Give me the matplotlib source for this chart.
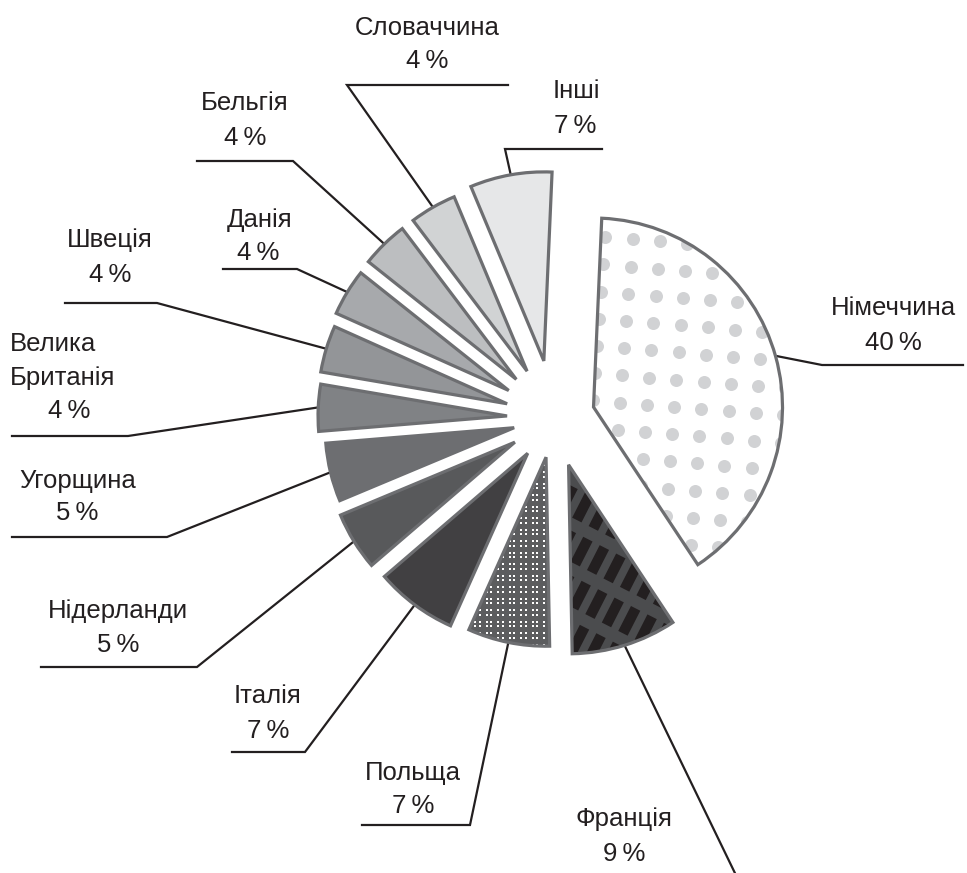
import numpy as np
import matplotlib
matplotlib.use('Agg')
import matplotlib.pyplot as plt
import matplotlib.patches as mpatches
from matplotlib.collections import LineCollection

plt.rcParams['font.family'] = ['Liberation Sans', 'DejaVu Sans']

# data
countries = ['Німеччина', 'Франція', 'Польща', 'Італія', 'Нідерланди', 'Угорщина',
             'Велика\nБританія', 'Швеція', 'Данія', 'Бельгія', 'Словаччина', 'Інші']
shares = [40, 9, 7, 7, 5, 5, 4, 4, 4, 4, 4, 7]
pct_labels = [f'{v}\u2009%' for v in shares]

# style / layout (pixel coords, y down)
fills = ['white', '#4b4c4e', '#5c5d5f', '#414042', '#58595b', '#6d6e71',
         '#808285', '#939598', '#a7a9ac', '#bcbec0', '#d1d3d4', '#e6e7e8']
explode = [41, 49, 40, 44, 46, 41, 47, 49, 53, 54, 54, 58]
center = (554, 418)
radius = 189
edge = '#6d6e71'
ink = '#231f20'
fs = 18.5

elbows = [(822, 365), (748, 900), (470, 825), (305, 752), (197, 667), (167, 537),
          (128, 436), (157, 303), (297, 269), (293, 161), (347, 85), (505, 149)]
line_end_x = [963, 860, 362, 232, 41, 12, 12, 65, 223, 197, 508, 602]
name_xy = [(893, 315), (624, 826), (413, 780), (268, 703), (118, 618), (78, 488),
           (10, 385), (110, 247), (260, 227), (245, 110), (427, 35), (576, 98)]
pct_xy = [(893, 350), (624, 861), (413, 813), (268, 738), (118, 652), (77, 520),
          (69, 418), (110, 282), (258, 260), (245, 145), (427, 68), (575, 133)]

fig = plt.figure(figsize=(9.67, 8.73), dpi=100)
ax = fig.add_axes([0, 0, 1, 1])

# y axis is flipped, so counterclock in data = clockwise on screen
wedges, _ = ax.pie(shares, explode=explode, center=center, radius=radius,
                   startangle=-87.5, counterclock=True, colors=fills,
                   wedgeprops=dict(edgecolor='none', linewidth=0))

ax.set_xlim(0, 967)
ax.set_ylim(873, 0)
ax.set_aspect('equal')
ax.axis('off')

# Germany: big light dots
phi = np.deg2rad(4.5)
step = 27.3
ii, jj = np.meshgrid(np.arange(-14, 15), np.arange(-14, 15))
u, v = ii * step, jj * step
dx = 632.7 + u * np.cos(phi) - v * np.sin(phi)
dy = 239.3 + u * np.sin(phi) + v * np.cos(phi)
sc = ax.scatter(dx.ravel(), dy.ravel(), s=(13 * 0.72) ** 2, c='#d1d2d4',
                linewidths=0, zorder=2)
sc.set_clip_path(wedges[0])

# France: black bars in slanted rows
a = np.deg2rad(27)
row = np.array([np.cos(a), np.sin(a)])
perp = np.array([np.sin(a), -np.cos(a)])
segs = []
for i in range(-14, 15):
    for j in range(-8, 9):
        c = np.array([598, 560]) + i * 18.5 * row + j * 40 * perp
        segs.append([c - 14 * perp, c + 14 * perp])
bars = LineCollection(segs, colors=ink, linewidths=10.5 * 0.72, capstyle='butt', zorder=2)
ax.add_collection(bars)
bars.set_clip_path(wedges[1])

# Poland: small white dots in 2x2 groups
gx, gy = np.meshgrid(np.arange(420, 640, 11.5), np.arange(440, 680, 11.5))
px, py = [], []
for ox in (-2.1, 2.1):
    for oy in (-2.1, 2.1):
        px.append(gx.ravel() + ox)
        py.append(gy.ravel() + oy)
dots = ax.scatter(np.concatenate(px), np.concatenate(py), s=(2.6 * 0.72) ** 2,
                  marker='s', c='white', linewidths=0, zorder=2)
dots.set_clip_path(wedges[2])

# outlines on top + leader lines + labels
for k, w in enumerate(wedges):
    ax.add_patch(mpatches.Wedge(w.center, w.r, w.theta1, w.theta2, fill=False,
                                edgecolor=edge, linewidth=2.3, zorder=3))
    tm = np.deg2rad((w.theta1 + w.theta2) / 2)
    ax0 = w.center[0] + (w.r + 1.5) * np.cos(tm)
    ay0 = w.center[1] + (w.r + 1.5) * np.sin(tm)
    ex, ey = elbows[k]
    ax.plot([ax0, ex, line_end_x[k]], [ay0, ey, ey], color=ink, lw=1.6,
            solid_joinstyle='miter', zorder=1, clip_on=False)

    nx, ny = name_xy[k]
    if '\n' in countries[k]:
        ax.text(nx, ny, countries[k], ha='left', va='baseline', fontsize=fs,
                color=ink, linespacing=1.55)
    else:
        ax.text(nx, ny, countries[k], ha='center', va='baseline', fontsize=fs,
                color=ink)
    qx, qy = pct_xy[k]
    ax.text(qx, qy, pct_labels[k], ha='center', va='baseline', fontsize=fs, color=ink)

fig.savefig('out.png', dpi=100)
